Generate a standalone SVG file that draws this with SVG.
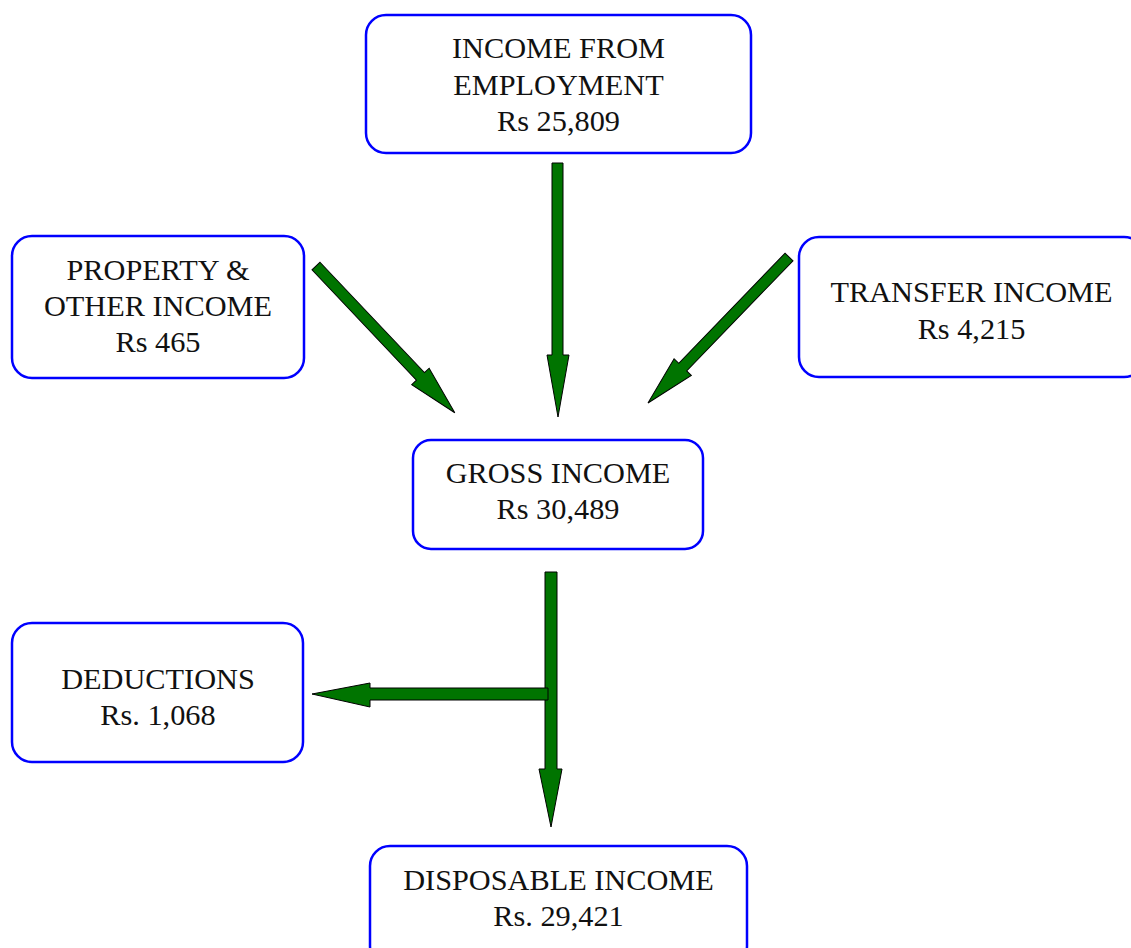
<svg xmlns="http://www.w3.org/2000/svg" width="1131" height="948" viewBox="0 0 1131 948">
<style>
.box{fill:#fff;stroke:#0000ff;stroke-width:2.5}
.t{font-family:"Liberation Serif","Times New Roman",serif;font-size:30.3px;fill:#111;text-anchor:middle}
.arr{fill:#007400;stroke:#000;stroke-width:1}
</style>
<rect width="1131" height="948" fill="#fff"/>
<g id="connectors">
<polygon class="arr" points="552,163 563,163 563,355 569,355 558,417 547,355 552,355"/>
<g transform="translate(316,266) rotate(46.6)"><polygon class="arr" points="0,-5.5 152,-5.5 152,-12 202,0 152,12 152,5.5 0,5.5"/></g>
<g transform="translate(789,257) rotate(134)"><polygon class="arr" points="0,-5.5 153,-5.5 153,-12 203,0 153,12 153,5.5 0,5.5"/></g>
<polygon class="arr" points="545,572 557,572 557,769 562,769 551,827 539,769 545,769"/>
<polygon class="arr" points="548,688 548,700 370,700 370,707 312,694 370,683 370,688"/>
</g>
<g id="employment">
<rect class="box" x="366" y="15" width="385" height="138" rx="20"/>
<text class="t" x="558.5" y="58">INCOME FROM</text>
<text class="t" x="558.5" y="95">EMPLOYMENT</text>
<text class="t" x="558.5" y="131">Rs 25,809</text>
</g>
<g id="property">
<rect class="box" x="12" y="236" width="292" height="142" rx="20"/>
<text class="t" x="158" y="280">PROPERTY &amp;</text>
<text class="t" x="158" y="316">OTHER INCOME</text>
<text class="t" x="158" y="352">Rs 465</text>
</g>
<g id="transfer">
<rect class="box" x="799" y="237" width="345" height="140" rx="20"/>
<text class="t" x="971.5" y="302">TRANSFER INCOME</text>
<text class="t" x="971.5" y="339">Rs 4,215</text>
</g>
<g id="gross">
<rect class="box" x="413" y="440" width="290" height="109" rx="18"/>
<text class="t" x="558" y="483">GROSS INCOME</text>
<text class="t" x="558" y="519">Rs 30,489</text>
</g>
<g id="deductions">
<rect class="box" x="12" y="623" width="291" height="139" rx="20"/>
<text class="t" x="158" y="689">DEDUCTIONS</text>
<text class="t" x="158" y="725">Rs. 1,068</text>
</g>
<g id="disposable">
<rect class="box" x="370" y="846" width="377" height="120" rx="20"/>
<text class="t" x="558.5" y="890">DISPOSABLE INCOME</text>
<text class="t" x="558.5" y="926">Rs. 29,421</text>
</g>
</svg>
